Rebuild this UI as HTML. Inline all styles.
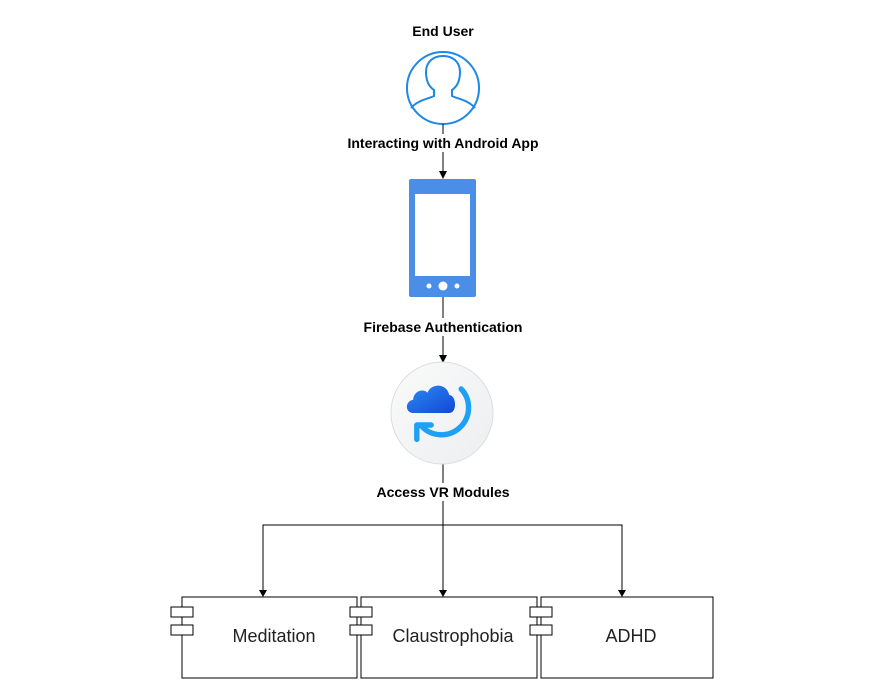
<!DOCTYPE html>
<html><head><meta charset="utf-8"><style>
html,body{margin:0;padding:0;background:#fff;}
svg{display:block}
text{font-family:"Liberation Sans",Arial,sans-serif;}
</style></head><body>
<svg width="876" height="694" viewBox="0 0 876 694" xmlns="http://www.w3.org/2000/svg">
<defs>
<linearGradient id="cg" x1="0" y1="0" x2="1" y2="1"><stop offset="0" stop-color="#fafafa"/><stop offset="1" stop-color="#eceef0"/></linearGradient>
<linearGradient id="cl" x1="0" y1="0" x2="1" y2="1"><stop offset="0" stop-color="#2b8cf0"/><stop offset="1" stop-color="#1346d8"/></linearGradient>
</defs>
<g font-size="14" font-weight="bold" fill="#000" text-anchor="middle">
<text x="443" y="36">End User</text>
</g>
<circle cx="443" cy="88" r="36" fill="#fff" stroke="#1e88e5" stroke-width="2"/>
<path d="M411,108 C418,100 428,99 434,96 L434,90 C428,86 426,80 426,72 C426,62 433,56 443,56 C453,56 460,62 460,72 C460,80 458,86 452,90 L452,96 C458,99 468,100 475,108" fill="none" stroke="#1e88e5" stroke-width="2"/>
<g stroke="#000" stroke-width="1" fill="none">
<line x1="443" y1="124" x2="443" y2="134"/>
<line x1="443" y1="152" x2="443" y2="172"/>
<line x1="443" y1="297" x2="443" y2="318"/>
<line x1="443" y1="336" x2="443" y2="356"/>
<line x1="443" y1="464" x2="443" y2="483"/>
<line x1="443" y1="501" x2="443" y2="590"/>
<polyline points="263,590 263,525 622,525 622,590"/>
</g>
<g fill="#000">
<polygon points="439,171 447,171 443,179"/>
<polygon points="439,355 447,355 443,363"/>
<polygon points="259,590 267,590 263,597"/>
<polygon points="439,590 447,590 443,597"/>
<polygon points="618,590 626,590 622,597"/>
</g>
<g font-size="14" font-weight="bold" fill="#000" text-anchor="middle">
<text x="443" y="148">Interacting with Android App</text>
<text x="443" y="332">Firebase Authentication</text>
<text x="443" y="497">Access VR Modules</text>
</g>
<rect x="409" y="179" width="67" height="118" rx="2" fill="#4a8ee8"/>
<rect x="415" y="194" width="55" height="82" fill="#fff"/>
<circle cx="443" cy="286" r="4.5" fill="#fff"/>
<circle cx="429" cy="286" r="2.5" fill="#fff"/>
<circle cx="457" cy="286" r="2.5" fill="#fff"/>
<circle cx="442" cy="413" r="51" fill="url(#cg)" stroke="#dcdde0" stroke-width="1"/>
<g transform="translate(442,413) scale(1.2) translate(-442,-413)">
<path d="M418,413 C411,413 411,403 418,402 C418,395 426,392 430,396 C433,388 446,388 448,398 C454,398 455,413 448,413 Z" fill="url(#cl)"/>
<path d="M458,393 A17,17 0 1 1 425,424" fill="none" stroke="#1ea0f5" stroke-width="4.5" stroke-linecap="round"/>
<path d="M421,435 L421,423 L433,423" fill="none" stroke="#1ea0f5" stroke-width="4.5" stroke-linecap="round" stroke-linejoin="round"/>
</g>
<g fill="#fff" stroke="#000" stroke-width="1">
<rect x="182" y="597" width="175" height="81"/>
<rect x="171" y="607" width="22" height="10"/>
<rect x="171" y="625" width="22" height="10"/>
<rect x="361" y="597" width="176" height="81"/>
<rect x="350" y="607" width="22" height="10"/>
<rect x="350" y="625" width="22" height="10"/>
<rect x="541" y="597" width="172" height="81"/>
<rect x="530" y="607" width="22" height="10"/>
<rect x="530" y="625" width="22" height="10"/>
</g>
<g font-size="18" fill="#222" text-anchor="middle">
<text x="274" y="642">Meditation</text>
<text x="453" y="642">Claustrophobia</text>
<text x="631" y="642">ADHD</text>
</g>
</svg>
</body></html>
